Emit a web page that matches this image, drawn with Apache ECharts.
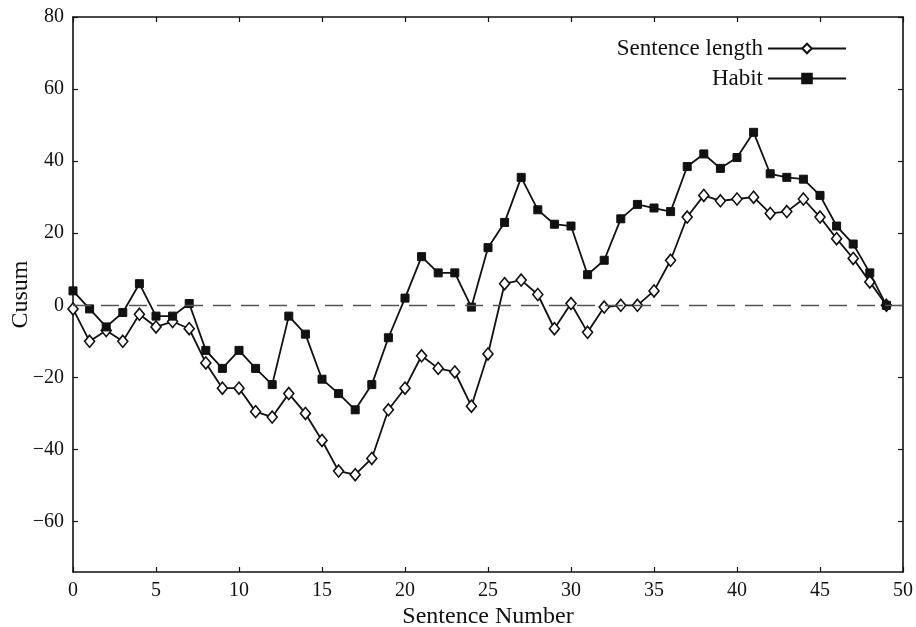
<!DOCTYPE html>
<html>
<head>
<meta charset="utf-8">
<script src="https://cdn.jsdelivr.net/npm/echarts@6/dist/echarts.min.js"></script>
<style>
  html, body { margin: 0; padding: 0; background: #fff; }
  #chart { width: 916px; height: 627px; }
</style>
</head>
<body>
<div id="chart"></div>
<script>
// Cusum values per sentence (sentences 0..49)
const sentenceLength = [
  -1, -10, -7, -10, -2.5, -6, -4.5, -6.5, -16, -23,
  -23, -29.5, -31, -24.5, -30, -37.5, -46, -47, -42.5, -29,
  -23, -14, -17.5, -18.5, -28, -13.5, 6, 7, 3, -6.5,
  0.5, -7.5, -0.5, 0, 0, 4, 12.5, 24.5, 30.5, 29,
  29.5, 30, 25.5, 26, 29.5, 24.5, 18.5, 13, 6.5, 0
];
const habit = [
  4, -1, -6, -2, 6, -3, -3, 0.5, -12.5, -17.5,
  -12.5, -17.5, -22, -3, -8, -20.5, -24.5, -29, -22, -9,
  2, 13.5, 9, 9, -0.5, 16, 23, 35.5, 26.5, 22.5,
  22, 8.5, 12.5, 24, 28, 27, 26, 38.5, 42, 38,
  41, 48, 36.5, 35.5, 35, 30.5, 22, 17, 9, 0
];
const yTicks = [-60, -40, -20, 0, 20, 40, 60, 80];
const seriesNames = ['Sentence length', 'Habit'];

const FONT = 'Liberation Serif';
const INK = '#111';

const chart = echarts.init(document.getElementById('chart'), null, { renderer: 'canvas' });

const frameLine = { show: true, onZero: false, lineStyle: { color: INK, width: 1.6 } };
const innerTick = { show: true, inside: true, length: 5, lineStyle: { color: INK, width: 1.2 } };

chart.setOption({
  animation: false,
  backgroundColor: '#fff',
  grid: { left: 73, right: 13, top: 17, bottom: 55, outerBoundsMode: 'none', containLabel: false },
  legend: {
    orient: 'vertical',
    right: 64,
    top: 32,
    align: 'right',
    itemWidth: 78,
    itemHeight: 12,
    itemGap: 7,
    textStyle: { fontFamily: FONT, fontSize: 23, color: INK },
    data: seriesNames
  },
  xAxis: [
    {
      type: 'value', min: 0, max: 50, interval: 5,
      position: 'bottom',
      axisLine: frameLine,
      axisTick: innerTick,
      splitLine: { show: false },
      axisLabel: { fontFamily: FONT, fontSize: 20, color: INK, margin: 9 },
      name: 'Sentence Number',
      nameLocation: 'middle',
      nameGap: 33,
      nameMoveOverlap: false,
      nameTextStyle: { fontFamily: FONT, fontSize: 24, color: INK }
    },
    {
      type: 'value', min: 0, max: 50, interval: 5,
      position: 'top',
      axisLine: frameLine,
      axisTick: innerTick,
      axisLabel: { show: false },
      splitLine: { show: false }
    }
  ],
  yAxis: [
    {
      type: 'value', min: -74, max: 80,
      position: 'left',
      axisLine: frameLine,
      axisTick: Object.assign({}, innerTick, { customValues: yTicks }),
      splitLine: { show: false },
      axisLabel: {
        fontFamily: FONT, fontSize: 20, color: INK, margin: 9,
        customValues: yTicks,
        formatter: v => (v < 0 ? '\u2212' + Math.abs(v) : String(v))
      },
      name: 'Cusum',
      nameLocation: 'middle',
      nameGap: 40,
      nameMoveOverlap: false,
      nameTextStyle: { fontFamily: FONT, fontSize: 24, color: INK }
    },
    {
      type: 'value', min: -74, max: 80,
      position: 'right',
      axisLine: frameLine,
      axisTick: Object.assign({}, innerTick, { customValues: yTicks }),
      axisLabel: { show: false, customValues: yTicks },
      splitLine: { show: false }
    }
  ],
  series: [
    {
      name: seriesNames[0],
      type: 'line',
      data: sentenceLength.map((v, i) => [i, v]),
      symbol: 'diamond',
      symbolSize: [10, 12],
      itemStyle: { color: '#fff', borderColor: INK, borderWidth: 1.6 },
      lineStyle: { color: INK, width: 1.8 },
      z: 3,
      markLine: {
        silent: true,
        symbol: 'none',
        label: { show: false },
        lineStyle: { color: '#555', width: 1.3, type: [18, 10] },
        data: [{ yAxis: 0 }]
      }
    },
    {
      name: seriesNames[1],
      type: 'line',
      data: habit.map((v, i) => [i, v]),
      symbol: 'rect',
      symbolSize: 8,
      itemStyle: { color: INK, borderColor: INK, borderWidth: 1 },
      lineStyle: { color: INK, width: 1.8 },
      z: 4
    }
  ]
});
</script>
</body>
</html>
